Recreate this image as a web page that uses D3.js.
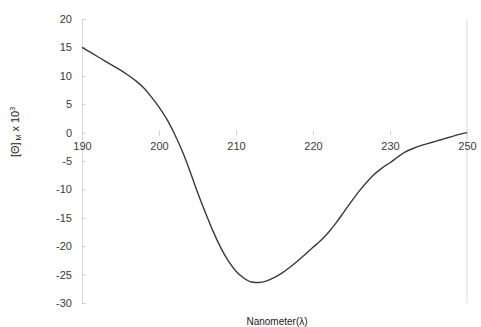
<!DOCTYPE html>
<html>
<head>
<meta charset="utf-8">
<script src="https://cdn.jsdelivr.net/npm/d3@7"></script>
<style>
  body { margin: 0; background: #fff; }
  text { font-family: "Liberation Sans", Arial, sans-serif; }
</style>
</head>
<body>
<div id="chart"></div>
<script>
'use strict';

  // CD spectrum, wavelength (nm) vs molar ellipticity x 10^3
  const wavelengths = [190, 191, 192, 193, 194, 195, 196, 197, 198, 199, 200, 201, 202, 203, 204, 205,
    206, 207, 208, 209, 210, 211, 212, 213, 214, 215, 216, 217, 218, 219, 220, 221, 222, 223, 224,
    225, 226, 227, 228, 229, 230, 232, 234, 236, 238, 240, 242, 244, 246, 248, 250];
  const ellipticity = [15.0, 14.2, 13.4, 12.6, 11.8, 11.0, 10.1, 9.1, 7.9, 6.3, 4.5, 2.4, -0.2, -3.2, -6.7, -10.5,
    -14.0, -17.3, -20.2, -22.6, -24.4, -25.6, -26.3, -26.4, -26.1, -25.5, -24.7, -23.7, -22.6, -21.4, -20.2, -19.0, -17.6, -15.9, -14.0,
    -12.1, -10.3, -8.7, -7.3, -6.2, -5.3, -4.3, -3.4, -2.8, -2.3, -1.9, -1.5, -1.1, -0.7, -0.3, 0.0];
  const xTickLabels = [190, 200, 210, 220, 230, 250];
  const yTickLabels = [20, 15, 10, 5, 0, -5, -10, -15, -20, -25, -30];

  const msm = {
    width: 481,
    height: 327,
    left: 82,
    right: 467,
    top: 19,
    bottom: 303
  };

  let svgContainer = d3.select('#chart')
    .append('svg')
    .attr('width', msm.width)
    .attr('height', msm.height);

  let step = (msm.right - msm.left) / (xTickLabels.length - 1);
  // category-style axis: labels evenly spaced
  let xScale = d3.scaleLinear()
    .domain(xTickLabels)
    .range(xTickLabels.map((d, i) => msm.left + i * step));

  let yScale = d3.scaleLinear()
    .domain([-30, 20])
    .range([msm.bottom, msm.top]);

  // y axis
  let yAxis = d3.axisLeft(yScale)
    .tickValues(yTickLabels)
    .tickSizeInner(5)
    .tickSizeOuter(0)
    .tickPadding(5)
    .tickFormat(d3.format('d'));
  let yG = svgContainer.append('g')
    .attr('transform', 'translate(' + msm.left + ', 0)')
    .call(yAxis);
  yG.select('.domain').attr('stroke', '#d9d9d9');
  yG.selectAll('.tick line').attr('stroke', '#d0d0d0').attr('x2', 4);
  yG.selectAll('text')
    .attr('fill', '#3a3a3a')
    .style('font-size', '11px')
    .text((d) => d < 0 ? '-' + Math.abs(d) : d);

  // right border
  svgContainer.append('line')
    .attr('x1', msm.right).attr('x2', msm.right)
    .attr('y1', msm.top).attr('y2', msm.bottom)
    .attr('stroke', '#d9d9d9');

  // x axis labels sit just under the zero line
  let xAxis = d3.axisBottom(xScale)
    .tickValues(xTickLabels)
    .tickSizeInner(5)
    .tickSizeOuter(0)
    .tickPadding(7)
    .tickFormat(d3.format('d'));
  let xG = svgContainer.append('g')
    .attr('transform', 'translate(0, ' + (yScale(0) - 2) + ')')
    .call(xAxis);
  xG.select('.domain').remove();
  xG.selectAll('.tick line').attr('stroke', '#d0d0d0');
  xG.selectAll('text')
    .attr('fill', '#3a3a3a')
    .style('font-size', '11px');

  // curve
  let points = wavelengths.map((w, i) => [w, ellipticity[i]]);
  svgContainer.append('path')
    .datum(points)
    .attr('fill', 'none')
    .attr('stroke', '#3a3a3a')
    .attr('stroke-width', 1.4)
    .attr('d', d3.line()
      .curve(d3.curveMonotoneX)
      .x((d) => xScale(d[0]))
      .y((d) => yScale(d[1])));

  // axis titles
  let yTitle = svgContainer.append('text')
    .attr('transform', 'translate(19,' + 132 + ') rotate(-90)')
    .attr('text-anchor', 'middle')
    .attr('fill', '#222')
    .style('font-size', '11px');
  yTitle.append('tspan').text('[\u0398]');
  yTitle.append('tspan').attr('dy', 2).style('font-size', '7px').text(' M');
  yTitle.append('tspan').attr('dy', -2).text(' x 10');
  yTitle.append('tspan').attr('dy', -4).style('font-size', '7px').text('3');

  svgContainer.append('text')
    .attr('x', 277)
    .attr('y', 325)
    .attr('text-anchor', 'middle')
    .attr('fill', '#222')
    .style('font-size', '10px')
    .text('Nanometer(\u03bb)');
</script>
</body>
</html>
